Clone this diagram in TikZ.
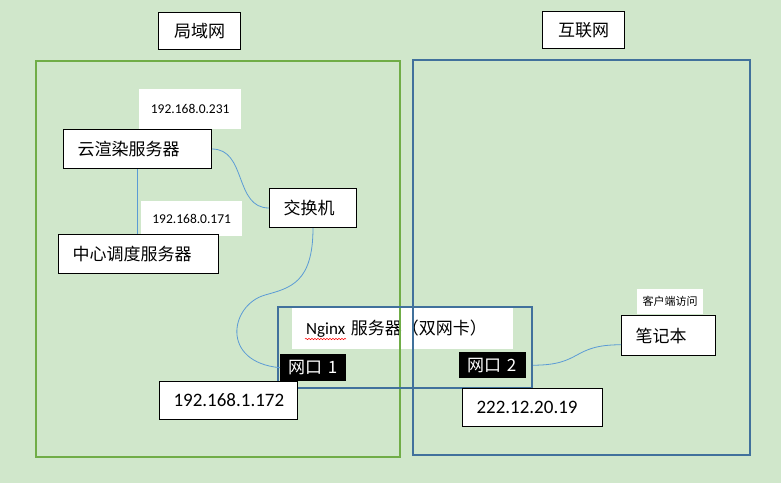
\documentclass[tikz,border=0pt]{standalone}
\usepackage{fontspec}
\usepackage{xcolor}
\usepackage{tikz}
\usetikzlibrary{decorations.pathmorphing}
\setmainfont{Carlito}
\newfontfamily\cjk{Noto Sans CJK SC}
\definecolor{mybg}{RGB}{208,231,203}
\definecolor{mygreen}{RGB}{112,173,71}
\definecolor{myblue}{RGB}{65,113,156}
\definecolor{mywire}{RGB}{91,155,213}

\tikzset{
  box/.style={draw=black, line width=1pt, fill=white, anchor=north west, align=left,
    inner xsep=14pt, inner ysep=0pt, font=\cjk\fontsize{17}{17}\selectfont},
  title/.style={box, align=center, minimum width=82pt, minimum height=37pt, inner xsep=0pt},
  tag/.style={fill=white, anchor=north west, inner sep=0pt, font=\fontsize{13.5}{13.5}\selectfont},
  port/.style={fill=black, text=white, anchor=north west, align=left, inner xsep=8pt,
    inner ysep=0pt, font=\cjk\fontsize{17}{17}\selectfont},
  ip/.style={box, font=\fontsize{19}{19}\selectfont, minimum height=38pt},
  wire/.style={draw=mywire, line width=0.8pt},
  net/.style={line width=2pt}
}

\begin{document}
\begin{tikzpicture}[x=1pt,y=-1pt]
\useasboundingbox[fill=mybg] (0,0) rectangle (781,483);

% white labels without border
\node[tag, minimum width=102pt, minimum height=40pt] (ip231) at (139,89) {192.168.0.231};
\node[tag, minimum width=101pt, minimum height=35pt] (ip171) at (141,201) {192.168.0.171};
\node[tag, font=\cjk\fontsize{11}{11}\selectfont, minimum width=66pt, minimum height=25pt] (client) at (637,289) {客户端访问};
\node[tag, font=\fontsize{17}{17}\selectfont, align=left, text width=193pt, inner xsep=14pt, minimum height=41pt] (nglabel) at (292,308) {Nginx {\cjk 服务器（双网卡）}};
\draw[red, line width=0.5pt, decorate, decoration={snake, amplitude=0.7pt, segment length=3pt}] (305,339) -- (346,339);

% LAN and Internet areas
\draw[mygreen, net] (36,61) rectangle (400,457);
\draw[myblue, net] (413,60) rectangle (750,455);

% Nginx with two ports
\node[draw=myblue, net, anchor=north west, minimum width=254pt, minimum height=81pt, inner sep=0pt] (ngx) at (277,306) {};

% boxes
\node[title] (lan) at (158,12) {局域网};
\node[title] (inet) at (542,11) {互联网};
\node[box, text width=120pt, minimum height=39pt] (yun) at (63,129) {云渲染服务器};
\node[box, text width=59pt, minimum height=39pt] (sw) at (269,188) {交换机};
\node[box, text width=132pt, minimum height=39pt] (center) at (58,234) {中心调度服务器};
\node[box, text width=66pt, minimum height=40pt] (nb) at (621,315) {笔记本};
\node[port, text width=50pt, minimum height=27pt] (p1) at (280,354) {网口 1};
\node[port, text width=51pt, minimum height=26pt] (p2) at (459,352) {网口 2};

% wires
\draw[wire] (yun.south) -- (yun.south |- center.north);
\draw[wire] (yun.east) .. controls +(35,0) and +(-35,0) .. (sw.west);
\draw[wire] (sw.south) .. controls +(0,55) and (290,288) .. (265,295)
  .. controls (230,305) and (220,362) .. (p1.west);
\draw[wire] (ngx.east |- p2.east) .. controls +(50,0) and +(-50,0) .. (nb.191);

% addresses
\node[ip, text width=110pt] (ip172) at (159,381) {192.168.1.172};
\node[ip, text width=112pt] (ip19) at (462,388) {222.12.20.19};

\end{tikzpicture}
\end{document}
